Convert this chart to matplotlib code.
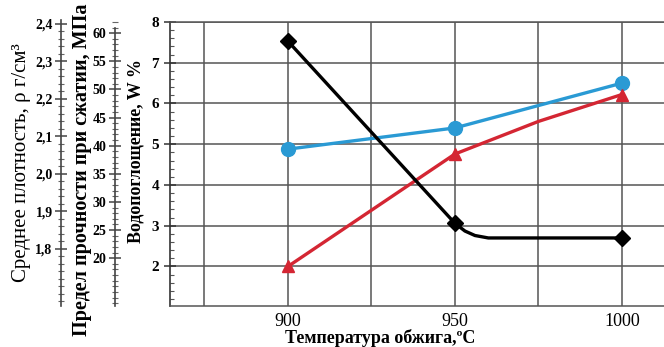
import matplotlib
matplotlib.use("Agg")
import matplotlib.pyplot as plt
from matplotlib.ticker import MultipleLocator, FixedLocator

# temperatures, degC
temp_major = [900, 950, 1000]
temp_minor = [875, 925, 975]

# water absorption W, % (black)
w_x = [900, 950, 953, 956, 960, 1000]
w_y = [7.53, 3.06, 2.87, 2.76, 2.70, 2.70]
w_marks = [0, 1, 5]

# density curve (blue), drawn in the W scale of the picture
rho_x = [900, 950, 1000]
rho_y = [4.88, 5.40, 6.50]

# strength curve (red), drawn in the W scale of the picture
sig_x = [900, 950, 975, 1000]
sig_y = [2.00, 4.76, 5.56, 6.22]
sig_marks = [0, 1, 3]

rho_ticks = [1.8, 1.9, 2.0, 2.1, 2.2, 2.3, 2.4]
rho_labels = ['1,8', '1,9', '2,0', '2,1', '2,2', '2,3', '2,4']
sig_ticks = [20, 25, 30, 35, 40, 45, 50, 55, 60]
w_ticks = [2, 3, 4, 5, 6, 7, 8]

serif = 'Liberation Serif'
W, H = 664, 347
fig = plt.figure(figsize=(W / 100, H / 100), dpi=100)
fig.patch.set_facecolor('white')

x0, x1 = 170, 664
y0, y1 = 22, 306
pos = [x0 / W, 1 - y1 / H, (x1 - x0) / W, (y1 - y0) / H]


def fx(px):
    return (px - x0) / (x1 - x0)


def fy(py):
    return 1 - (py - y0) / (y1 - y0)


ax = fig.add_axes(pos)
ax.set_xlim(864.7, 1012.6)
ax.set_ylim(1.03, 8.0)
ax.xaxis.set_major_locator(FixedLocator(temp_major))
ax.xaxis.set_minor_locator(FixedLocator(temp_minor))
ax.yaxis.set_major_locator(FixedLocator(w_ticks))
ax.yaxis.set_minor_locator(MultipleLocator(0.2))
ax.grid(True, which='both', axis='x', color='#555555', lw=1.1)
ax.grid(True, which='major', axis='y', color='#555555', lw=1.1)
ax.set_axisbelow(True)
ax.spines['right'].set_visible(False)
for s in ['top', 'bottom']:
    ax.spines[s].set_color('#555555')
    ax.spines[s].set_linewidth(1.1)
ax.spines['left'].set_color('#333333')
ax.spines['left'].set_linewidth(1.2)
ax.tick_params(axis='x', which='both', length=0, pad=5)
ax.tick_params(axis='y', which='major', direction='inout', length=8, width=1.1, color='#333333', pad=4)
ax.tick_params(axis='y', which='minor', direction='in', length=3, width=0.8, color='#555555')
for lab in ax.get_xticklabels():
    lab.set_fontfamily(serif)
    lab.set_fontsize(13)
for lab in ax.get_yticklabels():
    lab.set_fontfamily(serif)
    lab.set_fontweight('bold')
    lab.set_fontsize(11)

ax.plot(w_x, w_y, color='black', lw=2.4, marker='D', ms=8, markevery=w_marks, zorder=4)
ax.plot(rho_x, rho_y, color='#2a9ad4', lw=2.4, marker='o', ms=10, zorder=3)
ax.plot(sig_x, sig_y, color='#d42633', lw=2.4, marker='^', ms=9, markevery=sig_marks, zorder=3)

ax.set_xlabel('Температура обжига,ºC', fontfamily=serif, fontweight='bold', fontsize=13)
ax.xaxis.set_label_coords(fx(380), fy(347))
ax.xaxis.label.set_va('bottom')
ax.set_ylabel('Водопоглощение, W %', fontfamily=serif, fontweight='bold', fontsize=13)
ax.yaxis.set_label_coords(fx(144), fy(151))


def side_axis(px, lim, ticks, labels, minor, label, weight, size, lab_px, lab_py, top):
    a = fig.add_axes(pos, frameon=True)
    a.patch.set_visible(False)
    for s in ['top', 'right', 'bottom']:
        a.spines[s].set_visible(False)
    a.spines['left'].set_position(('axes', fx(px)))
    a.spines['left'].set_color('#444444')
    a.spines['left'].set_linewidth(1.2)
    a.spines['left'].set_bounds(lim[0], top)
    a.set_xticks([])
    a.set_ylim(*lim)
    a.yaxis.set_major_locator(FixedLocator(ticks))
    a.set_yticklabels(labels, fontfamily=serif, fontweight='bold', fontsize=10)
    a.yaxis.set_minor_locator(MultipleLocator(minor))
    a.tick_params(axis='y', which='major', direction='inout', length=8, width=1.1, color='#444444', pad=2)
    a.tick_params(axis='y', which='minor', direction='inout', length=4, width=0.8, color='#666666')
    a.set_ylabel(label, fontfamily=serif, fontweight=weight, fontsize=size)
    a.yaxis.set_label_coords(fx(lab_px), fy(lab_py))
    return a


side_axis(115, (11.5, 62.0), sig_ticks, [str(t) for t in sig_ticks], 1,
          'Предел прочности при сжатии, МПа', 'bold', 14.5, 92, 170, 61)
side_axis(61, (1.647, 2.405), rho_ticks, rho_labels, 0.02,
          'Среднее плотность, ρ г/см³', 'normal', 15, 31, 163, 2.41)

fig.savefig('out.png', dpi=100, facecolor='white')
